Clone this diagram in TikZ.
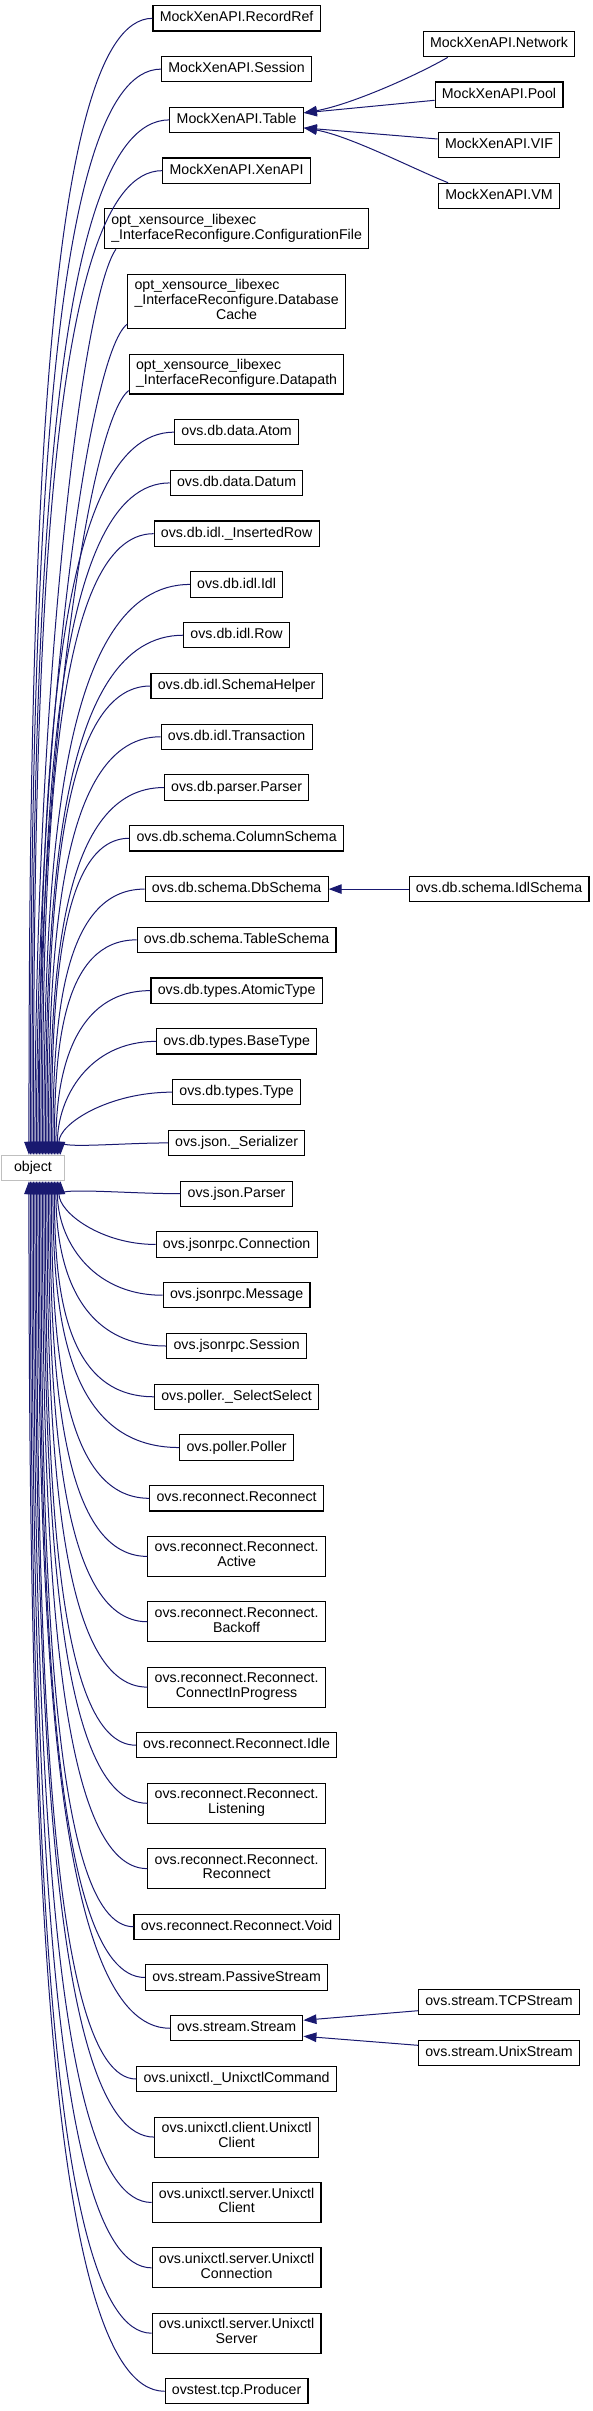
\documentclass[tikz,border=0pt]{standalone}
\usepackage{fontspec}
\setmainfont{Liberation Sans}
\usetikzlibrary{arrows.meta,calc}
\definecolor{edgecol}{HTML}{191970}
\definecolor{objgray}{HTML}{BFBFBF}
\newcommand\nodefont{\fontsize{14.18}{14.6}\selectfont}
\tikzset{
  box/.style={draw=black, line width=1.1pt, fill=white, inner xsep=6.8pt, inner ysep=0pt,
    minimum height=25.3pt, font=\nodefont, text height=10.4pt, text depth=3.1pt},
  boxm/.style={draw=black, line width=1.1pt, fill=white, inner xsep=6.8pt, inner ysep=0pt,
    font=\nodefont},
  conn/.style={draw=edgecol, line width=1pt},
  arr/.style={conn, {Triangle[length=13pt,width=9.5pt]}-}
}
\begin{document}
\begin{tikzpicture}[x=1pt,y=-1pt]
\useasboundingbox (0,0) rectangle (593,2411);
\def\cx{236.6}
\def\cy{499}
% column 1
\node[box] (n1) at (\cx,18.35) {MockXenAPI.RecordRef};
\node[box] (n2) at (\cx,69.12) {MockXenAPI.Session};
\node[box] (n3) at (\cx,119.89) {MockXenAPI.Table};
\node[box] (n4) at (\cx,170.66) {MockXenAPI.XenAPI};
\node[boxm, minimum height=39.9pt] (n5) at (\cx,228.73) {\begin{tabular}{@{}l@{}}opt\_xensource\_libexec\\\_InterfaceReconfigure.ConfigurationFile\end{tabular}};
\node[boxm, minimum height=54.5pt] (n6) at (\cx,301.4) {\begin{tabular}{@{}l@{}}opt\_xensource\_libexec\\\_InterfaceReconfigure.Database\\\multicolumn{1}{@{}c@{}}{Cache}\end{tabular}};
\node[boxm, minimum height=39.9pt] (n7) at (\cx,374.07) {\begin{tabular}{@{}l@{}}opt\_xensource\_libexec\\\_InterfaceReconfigure.Datapath\end{tabular}};
\node[box] (n8) at (\cx,432.14) {ovs.db.data.Atom};
\node[box] (n9) at (\cx,482.91) {ovs.db.data.Datum};
\node[box] (n10) at (\cx,533.68) {ovs.db.idl.\_InsertedRow};
\node[box] (n11) at (\cx,584.45) {ovs.db.idl.Idl};
\node[box] (n12) at (\cx,635.22) {ovs.db.idl.Row};
\node[box] (n13) at (\cx,685.99) {ovs.db.idl.SchemaHelper};
\node[box] (n14) at (\cx,736.76) {ovs.db.idl.Transaction};
\node[box] (n15) at (\cx,787.53) {ovs.db.parser.Parser};
\node[box] (n16) at (\cx,838.3) {ovs.db.schema.ColumnSchema};
\node[box] (n17) at (\cx,889.07) {ovs.db.schema.DbSchema};
\node[box] (n18) at (\cx,939.84) {ovs.db.schema.TableSchema};
\node[box] (n19) at (\cx,990.61) {ovs.db.types.AtomicType};
\node[box] (n20) at (\cx,1041.38) {ovs.db.types.BaseType};
\node[box] (n21) at (\cx,1092.15) {ovs.db.types.Type};
\node[box] (n22) at (\cx,1142.92) {ovs.json.\_Serializer};
\node[box] (n23) at (\cx,1193.69) {ovs.json.Parser};
\node[box] (n24) at (\cx,1244.46) {ovs.jsonrpc.Connection};
\node[box] (n25) at (\cx,1295.23) {ovs.jsonrpc.Message};
\node[box] (n26) at (\cx,1346) {ovs.jsonrpc.Session};
\node[box] (n27) at (\cx,1396.77) {ovs.poller.\_SelectSelect};
\node[box] (n28) at (\cx,1447.54) {ovs.poller.Poller};
\node[box] (n29) at (\cx,1498.31) {ovs.reconnect.Reconnect};
\node[boxm, minimum height=39.9pt] (n30) at (\cx,1556.38) {\begin{tabular}{@{}c@{}}ovs.reconnect.Reconnect.\\Active\end{tabular}};
\node[boxm, minimum height=39.9pt] (n31) at (\cx,1621.75) {\begin{tabular}{@{}c@{}}ovs.reconnect.Reconnect.\\Backoff\end{tabular}};
\node[boxm, minimum height=39.9pt] (n32) at (\cx,1687.12) {\begin{tabular}{@{}c@{}}ovs.reconnect.Reconnect.\\ConnectInProgress\end{tabular}};
\node[box] (n33) at (\cx,1745.19) {ovs.reconnect.Reconnect.Idle};
\node[boxm, minimum height=39.9pt] (n34) at (\cx,1803.26) {\begin{tabular}{@{}c@{}}ovs.reconnect.Reconnect.\\Listening\end{tabular}};
\node[boxm, minimum height=39.9pt] (n35) at (\cx,1868.63) {\begin{tabular}{@{}c@{}}ovs.reconnect.Reconnect.\\Reconnect\end{tabular}};
\node[box] (n36) at (\cx,1926.7) {ovs.reconnect.Reconnect.Void};
\node[box] (n37) at (\cx,1977.47) {ovs.stream.PassiveStream};
\node[box] (n38) at (\cx,2028.24) {ovs.stream.Stream};
\node[box] (n39) at (\cx,2079.01) {ovs.unixctl.\_UnixctlCommand};
\node[boxm, minimum height=39.9pt] (n40) at (\cx,2137.08) {\begin{tabular}{@{}c@{}}ovs.unixctl.client.Unixctl\\Client\end{tabular}};
\node[boxm, minimum height=39.9pt] (n41) at (\cx,2202.45) {\begin{tabular}{@{}c@{}}ovs.unixctl.server.Unixctl\\Client\end{tabular}};
\node[boxm, minimum height=39.9pt] (n42) at (\cx,2267.82) {\begin{tabular}{@{}c@{}}ovs.unixctl.server.Unixctl\\Connection\end{tabular}};
\node[boxm, minimum height=39.9pt] (n43) at (\cx,2333.19) {\begin{tabular}{@{}c@{}}ovs.unixctl.server.Unixctl\\Server\end{tabular}};
\node[box] (n44) at (\cx,2391.26) {ovstest.tcp.Producer};
% column 2
\node[box] (net) at (\cy,44.2) {MockXenAPI.Network};
\node[box] (pool) at (\cy,94.7) {MockXenAPI.Pool};
\node[box] (vif) at (\cy,145.3) {MockXenAPI.VIF};
\node[box] (vm) at (\cy,195.9) {MockXenAPI.VM};
\node[box] (idls) at (\cy,889.07) {ovs.db.schema.IdlSchema};
\node[box] (tcp) at (\cy,2002) {ovs.stream.TCPStream};
\node[box] (unix) at (\cy,2053) {ovs.stream.UnixStream};
% object
\node[box, draw=objgray, minimum width=63pt] (obj) at (33,1168) {object};
% attach points on object
\foreach \i in {1,...,22}{
  \pgfmathsetmacro\xq{28+(\i-1)*1.5}
  \coordinate (q\i) at ($(obj.north west)+(\xq,0)$);
}
\foreach \i in {23,...,44}{
  \pgfmathsetmacro\xq{28+(44-\i)*1.5}
  \coordinate (q\i) at ($(obj.south west)+(\xq,0)$);
}
% start points on the children
\foreach \i in {1,...,44}{ \coordinate (p\i) at (n\i.west); }
\coordinate (p5) at ($(n5.south west)+(12,0)$);
\coordinate (p6) at ($(n6.south west)+(0,-5)$);
\coordinate (p7) at ($(n7.south west)+(0,-4)$);
% edges to object
\foreach \i in {1,2,3,4,8,9,10,11,12,13,14,15,16,17,18,19,20,21,22,23,24,25,26,27,28,29,30,31,32,33,34,35,36,37,38,39,40,41,42,43,44}{
  \draw[arr] let \p1=(p\i), \p2=(q\i) in
    (\p2) .. controls (\x2,{\y2+0.5*(\y1-\y2)}) and ({\x1-min(0.9,0.4+abs(\y1-\y2)/400)*(\x1-\x2)},\y1) .. (\p1);
}
\draw[arr] let \p1=(p5), \p2=(q5) in
  (\p2) .. controls (\x2,{\y2+0.5*(\y1-\y2)}) and ($(\p1)+(-35,50)$) .. (\p1);
\draw[arr] let \p1=(p6), \p2=(q6) in
  (\p2) .. controls (\x2,{\y2+0.5*(\y1-\y2)}) and ($(\p1)+(-40,30)$) .. (\p1);
\draw[arr] let \p1=(p7), \p2=(q7) in
  (\p2) .. controls (\x2,{\y2+0.5*(\y1-\y2)}) and ($(\p1)+(-40,30)$) .. (\p1);
% Table children
\coordinate (tA) at ($(n3.east)+(0,-7)$);
\coordinate (tB) at ($(n3.east)+(0,8)$);
\coordinate (netp) at ($(net.south west)+(25,0)$);
\coordinate (vmp) at ($(vm.north west)+(10,0)$);
\draw[arr] (tA) .. controls ($(tA)+(46,-8)$) and ($(netp)+(-33,19)$) .. (netp);
\draw[arr] (tA) -- ($(pool.west)+(0,5.6)$);
\draw[arr] (tB) -- ($(vif.west)+(0,-6.3)$);
\draw[arr] (tB) .. controls ($(tB)+(46,8)$) and ($(vmp)+(-33,-13)$) .. (vmp);
% DbSchema child
\draw[arr] (n17.east) -- (idls.west);
% Stream children
\coordinate (sA) at ($(n38.east)+(0,-8)$);
\coordinate (sB) at ($(n38.east)+(0,8)$);
\draw[arr] (sA) -- ($(tcp.west)+(0,8.7)$);
\draw[arr] (sB) -- ($(unix.west)+(0,-7.7)$);
\end{tikzpicture}
\end{document}
